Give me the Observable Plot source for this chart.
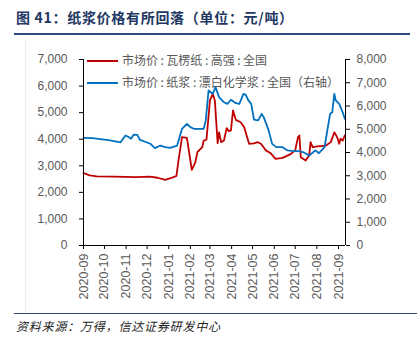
<!DOCTYPE html>
<html><head><meta charset="utf-8">
<script src="https://cdn.jsdelivr.net/npm/d3@7"></script>
<script src="https://cdn.jsdelivr.net/npm/@observablehq/plot@0.6"></script>
<style>
body{margin:0;background:#fff;width:417px;height:340px;position:relative;overflow:hidden;font-family:"Noto Sans CJK SC","Noto Sans",sans-serif}
#title{position:absolute;left:16px;top:6px;font-size:14px;font-weight:bold;color:#1F3864;white-space:nowrap;line-height:22px;letter-spacing:0.7px}
#rule1{position:absolute;left:14px;top:33px;width:396px;height:2px;background:#2E4A7D}
#frame{position:absolute;left:25px;top:40px;width:1px;height:272px;background:#ececec}
#chart{position:absolute;left:0;top:40px}
#rule2{position:absolute;left:14px;top:313px;width:403px;height:1px;background:#2E4A7D}
#source{position:absolute;left:16px;top:317px;font-size:12px;font-style:italic;color:#222;white-space:nowrap;line-height:18px;letter-spacing:0.8px}
.lg{position:absolute;left:87px;height:18px;font-size:12px;color:#595959;white-space:nowrap;line-height:18px}
.lg i{display:inline-block;width:31px;height:2px;vertical-align:middle;margin-right:4px;position:relative;top:-1px}
.lg b{font-weight:normal;margin:0 2.5px}
</style></head>
<body>
<div id="title">图 41：纸浆价格有所回落（单位：元/吨）</div>
<div id="rule1"></div>
<div id="frame"></div>
<div id="chart"></div>
<div class="lg" style="top:51px"><i style="background:#C00000"></i>市场价<b>:</b>瓦楞纸<b>:</b>高强<b>:</b>全国</div>
<div class="lg" style="top:73px"><i style="background:#0070C0"></i>市场价<b>:</b>纸浆<b>:</b>漂白化学浆<b>:</b>全国（右轴）</div>
<div id="rule2"></div>
<div id="source">资料来源：万得，信达证券研发中心</div>
<script>
const redDates = ["2020-09-01","2020-09-10","2020-09-20","2020-10-15","2020-11-15","2020-12-05","2020-12-16","2020-12-27","2021-01-08","2021-01-12","2021-01-15","2021-01-20","2021-01-27","2021-02-03","2021-02-08","2021-02-11","2021-02-18","2021-02-20","2021-02-24","2021-03-01","2021-03-05","2021-03-08","2021-03-12","2021-03-14","2021-03-17","2021-03-21","2021-03-25","2021-03-28","2021-03-31","2021-04-03","2021-04-07","2021-04-14","2021-04-19","2021-04-26","2021-05-03","2021-05-08","2021-05-13","2021-05-20","2021-05-27","2021-06-03","2021-06-13","2021-06-25","2021-07-01","2021-07-05","2021-07-07","2021-07-09","2021-07-16","2021-07-21","2021-07-23","2021-07-26","2021-08-02","2021-08-14","2021-08-21","2021-08-26","2021-08-30","2021-09-02","2021-09-04","2021-09-07","2021-09-10"];
const redValues = [2720,2640,2600,2590,2570,2590,2550,2470,2570,2620,3200,4080,4050,2850,3130,3510,3700,3950,3980,5460,5710,5460,3850,4260,3890,3950,4420,4300,4330,5080,4730,4640,4450,3830,3840,3890,3830,3580,3470,3260,3300,3450,3580,4080,4140,3320,3200,3390,3890,3700,3730,3760,3890,4260,4080,3830,4020,3950,4140];
const blueDates = ["2020-09-01","2020-09-14","2020-10-09","2020-10-24","2020-10-31","2020-11-05","2020-11-08","2020-11-12","2020-11-17","2020-11-21","2020-11-30","2020-12-06","2020-12-12","2020-12-20","2020-12-27","2021-01-03","2021-01-13","2021-01-20","2021-01-27","2021-02-01","2021-02-06","2021-02-20","2021-02-23","2021-02-27","2021-03-05","2021-03-09","2021-03-14","2021-03-21","2021-03-26","2021-03-31","2021-04-07","2021-04-12","2021-04-18","2021-04-21","2021-04-25","2021-04-29","2021-05-03","2021-05-09","2021-05-14","2021-05-17","2021-05-24","2021-05-29","2021-06-04","2021-06-13","2021-06-20","2021-06-29","2021-07-06","2021-07-13","2021-07-21","2021-07-30","2021-08-04","2021-08-12","2021-08-16","2021-08-20","2021-08-23","2021-08-26","2021-08-28","2021-09-02","2021-09-07","2021-09-10"];
const blueValues = [4630,4620,4520,4440,4730,4660,4590,4770,4760,4540,4440,4370,4190,4300,4230,4200,4300,5020,5230,5090,5020,5020,5380,6670,6520,6810,6380,6160,6090,6270,6120,6090,6520,6490,6240,6090,5410,5380,5660,5520,4950,4370,4230,4230,4090,4060,4060,4010,3870,4090,3970,4230,4950,5660,5730,6520,6240,6090,5730,5450];
const leftTicks = [0,1000,2000,3000,4000,5000,6000,7000];
const rightTicks = [0,1000,2000,3000,4000,5000,6000,7000,8000];
const monthTicks = ["2020-09-01","2020-10-01","2020-11-01","2020-12-01","2021-01-01","2021-02-01","2021-03-01","2021-04-01","2021-05-01","2021-06-01","2021-07-01","2021-08-01","2021-09-01"];
const xDomain = ["2020-09-01","2021-09-11"];
const leftMax = 7000, rightMax = 8000;

const parse = d3.utcParse("%Y-%m-%d");
const red = redDates.map((d,i)=>({date:parse(d), value:redValues[i]}));
const blue = blueDates.map((d,i)=>({date:parse(d), value:blueValues[i] * leftMax / rightMax}));
const fmt = d3.format(",");
const domain = xDomain.map(parse);

const chart = Plot.plot({
  width: 417, height: 272,
  marginLeft: 83, marginRight: 72, marginTop: 19, marginBottom: 67,
  style: {fontFamily: "'Liberation Sans', Arial, sans-serif", fontSize: "12px", background: "transparent"},
  x: {type: "utc", domain},
  y: {domain: [0, leftMax]},
  marks: [
    Plot.line(red, {x: "date", y: "value", stroke: "#C00000", strokeWidth: 1.8}),
    Plot.line(blue, {x: "date", y: "value", stroke: "#0070C0", strokeWidth: 1.8}),
    Plot.ruleX([domain[0]], {stroke: "#000"}),
    Plot.ruleX([domain[1]], {stroke: "#000"}),
    Plot.ruleY([0], {stroke: "#000"}),
    Plot.axisY(leftTicks, {anchor: "left", tickSize: 4, tickPadding: 12, stroke: "#000", fill: "#595959", tickFormat: fmt, label: null}),
    Plot.axisY(rightTicks.map(v => v * leftMax / rightMax), {anchor: "right", tickSize: 4, tickPadding: 7, stroke: "#000", fill: "#595959", tickFormat: v => fmt(Math.round(v * rightMax / leftMax)), label: null}),
    Plot.axisX(monthTicks.map(parse), {anchor: "bottom", tickSize: 4, tickPadding: 4, tickRotate: -90, fontSize: 12.5, stroke: "#000", fill: "#595959", tickFormat: d3.utcFormat("%Y-%m"), label: null})
  ]
});
document.getElementById("chart").appendChild(chart);
</script>
</body></html>
